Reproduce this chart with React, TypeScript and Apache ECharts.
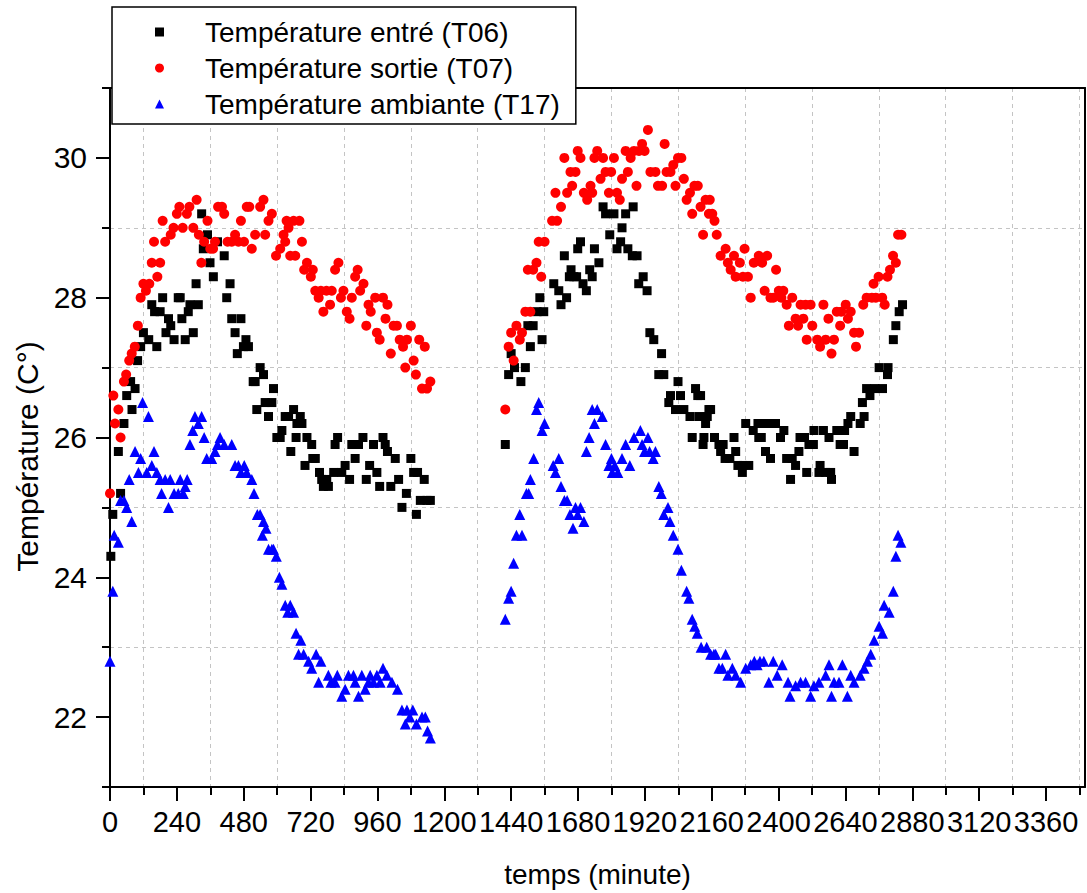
import React, { useEffect, useRef } from "react";
import * as echarts from "echarts";

// ---------- data (time in minutes, temperature in °C) ----------
const SERIES_NAMES = [
  "Température entré (T06)",
  "Température sortie (T07)",
  "Température ambiante (T17)",
];

const T06_RUN1: [number, number][] = [
  [3,24.3],[10,24.9],[30,25.8],[38,25.2],[50,26.2],[60,26.6],[74,26.8],[79,26.4],[90,26.7],[99,27.1],
  [110,27.3],[120,27.5],[139,27.4],[150,27.9],[160,27.8],[168,27.3],[180,27.8],[189,28.0],[201,27.5],[210,27.7],
  [218,27.6],[230,27.4],[245,28.0],[252,28.0],[258,27.7],[270,27.4],[281,27.8],[287,27.9],[299,27.5],[309,28.2],
  [317,27.9],[329,29.2],[335,28.7],[350,28.9],[359,28.5],[371,28.3],[386,28.8],[410,28.6],[419,28.0],[431,28.2],
  [437,27.7],[449,27.5],[457,27.2],[470,27.7],[479,27.3],[488,27.4],[497,27.3],[514,26.8],[521,26.8],[527,26.4],
  [539,27.0],[551,26.9],[557,26.5],[569,26.3],[581,26.5],[587,26.7],[599,26.0],[611,26.0],[617,26.1],[629,26.3],
  [641,26.3],[649,25.8],[659,26.4],[668,26.0],[671,26.2],[683,26.3],[689,26.2],[700,25.6],[707,26.0],[724,25.9],
  [728,25.7],[737,25.7],[752,25.5],[760,25.4],[766,25.3],[778,25.4],[784,25.3],[803,25.5],[808,25.9],[817,26.0],
  [832,25.5],[844,25.6],[860,25.4],[868,25.9],[880,25.7],[892,25.9],[908,26.0],[920,25.4],[932,25.6],[946,25.9],
  [958,25.5],[968,25.3],[980,26.0],[988,25.9],[996,25.8],[1008,25.3],[1024,25.7],[1036,25.4],[1048,25.0],[1064,25.2],
  [1080,25.7],[1090,25.5],[1100,24.9],[1104,25.5],[1114,25.1],[1128,25.4],[1138,25.1],[1150,25.1],
];

const T06_RUN2: [number, number][] = [
  [1419,25.9],[1431,26.9],[1440,27.2],[1452,27.0],[1475,26.8],[1491,27.0],[1500,27.6],[1509,27.3],[1519,27.6],[1533,27.8],
  [1543,28.0],[1551,27.4],[1557,27.8],[1593,28.2],[1611,28.1],[1619,27.9],[1631,28.6],[1639,28.0],[1649,28.3],[1655,28.4],
  [1665,28.3],[1675,28.3],[1679,28.7],[1689,28.8],[1698,28.2],[1710,28.1],[1722,28.4],[1731,28.3],[1739,28.7],[1755,28.5],
  [1770,29.3],[1779,29.2],[1794,28.9],[1809,29.2],[1820,28.7],[1833,28.8],[1838,29.0],[1851,29.2],[1859,28.7],[1875,28.6],
  [1878,29.3],[1892,28.6],[1898,28.2],[1914,28.3],[1928,28.1],[1938,27.5],[1952,27.4],[1970,26.9],[1980,27.2],[1988,26.9],
  [2006,26.5],[2012,26.6],[2030,26.4],[2039,26.8],[2048,26.6],[2060,26.4],[2082,26.3],[2090,26.0],[2102,26.7],[2110,26.6],
  [2114,26.3],[2120,26.6],[2129,25.9],[2132,26.0],[2138,26.2],[2144,26.3],[2150,26.4],[2156,26.4],[2170,26.0],[2186,25.9],
  [2192,25.8],[2201,25.9],[2208,25.7],[2225,25.7],[2240,26.0],[2246,25.8],[2254,25.6],[2270,25.5],[2272,25.6],[2282,26.2],
  [2293,25.6],[2309,26.1],[2326,26.2],[2329,26.0],[2338,26.0],[2347,26.2],[2353,25.8],[2365,26.2],[2371,25.7],[2389,26.2],
  [2407,26.0],[2419,26.1],[2429,25.7],[2443,25.4],[2449,25.7],[2461,25.6],[2473,25.8],[2477,26.0],[2493,26.0],[2501,25.5],
  [2509,25.9],[2525,25.9],[2527,26.1],[2545,25.5],[2549,25.6],[2561,26.1],[2569,25.5],[2581,26.0],[2587,25.5],[2590,25.4],
  [2609,26.1],[2621,25.9],[2633,25.9],[2637,26.1],[2649,26.2],[2659,26.3],[2671,25.8],[2693,26.2],[2701,26.5],[2707,26.3],
  [2716,26.7],[2728,26.6],[2745,26.7],[2761,27.0],[2773,26.7],[2791,26.9],[2793,27.0],[2812,27.4],[2821,27.6],[2833,27.8],
  [2845,27.9],
];

const T07_RUN1: [number, number][] = [
  [0,25.2],[12,26.6],[18,26.2],[30,26.4],[38,26.0],[50,26.8],[58,26.9],[69,27.1],[78,27.2],[89,27.3],
  [100,27.6],[110,28.0],[120,28.2],[129,28.1],[141,28.2],[150,28.5],[158,28.8],[170,28.3],[180,28.5],[189,29.1],
  [198,28.8],[218,28.9],[228,29.0],[240,29.2],[249,29.3],[261,29.0],[276,29.2],[285,29.3],[299,29.0],[311,29.4],
  [319,28.9],[328,28.5],[338,28.8],[350,29.1],[360,28.7],[370,28.7],[377,28.8],[388,29.3],[402,29.3],[410,29.2],
  [422,28.8],[437,28.8],[449,28.9],[461,28.8],[470,29.1],[481,28.8],[491,29.3],[500,29.3],[509,28.7],[521,28.9],
  [539,29.3],[551,29.4],[557,28.9],[569,29.1],[581,29.2],[596,28.6],[611,28.7],[623,28.9],[629,28.8],[634,29.1],
  [641,29.0],[647,28.6],[659,29.1],[665,28.6],[680,29.1],[689,28.8],[697,28.4],[707,28.5],[721,28.3],[728,28.4],
  [737,28.1],[749,28.0],[757,28.1],[766,27.8],[777,28.1],[790,27.9],[796,28.1],[808,28.4],[820,28.5],[829,28.0],
  [838,28.1],[850,27.8],[860,27.7],[868,28.0],[880,28.3],[889,28.4],[898,28.1],[910,28.2],[920,27.6],[928,27.9],
  [936,27.8],[952,28.0],[958,27.5],[968,27.4],[980,28.0],[989,27.7],[996,27.9],[1008,27.2],[1018,27.6],[1030,27.6],
  [1040,27.4],[1052,27.3],[1060,27.0],[1066,27.4],[1080,27.6],[1090,27.1],[1098,26.9],[1110,27.4],[1120,26.7],[1130,27.3],
  [1138,26.7],[1150,26.8],
];

const T07_RUN2: [number, number][] = [
  [1419,26.4],[1431,27.3],[1440,27.5],[1449,27.1],[1459,27.6],[1471,27.4],[1479,27.5],[1491,27.8],[1500,28.4],[1509,27.8],
  [1519,28.4],[1531,28.5],[1539,28.8],[1548,28.3],[1560,28.8],[1587,29.1],[1599,29.5],[1605,29.1],[1619,29.3],[1631,30.0],
  [1641,29.5],[1653,29.8],[1659,29.6],[1671,29.8],[1679,30.1],[1689,30.0],[1701,29.5],[1713,29.4],[1725,29.6],[1731,29.5],
  [1739,30.0],[1749,30.1],[1761,29.7],[1770,30.0],[1779,29.8],[1791,29.5],[1799,29.8],[1809,30.0],[1820,29.5],[1830,29.4],
  [1838,29.7],[1851,30.1],[1859,29.8],[1869,30.0],[1881,30.1],[1890,29.6],[1899,30.1],[1910,30.2],[1919,30.1],[1931,30.4],
  [1940,29.8],[1958,29.8],[1967,29.6],[1982,29.6],[1991,30.2],[1998,29.8],[2012,29.8],[2022,29.9],[2030,29.6],[2039,30.0],
  [2051,30.0],[2060,29.7],[2070,29.4],[2082,29.5],[2090,29.2],[2098,29.6],[2110,29.6],[2120,29.3],[2129,28.9],[2138,29.4],
  [2150,29.2],[2153,29.4],[2162,29.2],[2170,29.1],[2178,28.9],[2192,28.6],[2210,28.7],[2218,28.5],[2228,28.4],[2240,28.6],
  [2246,28.3],[2261,28.5],[2272,28.3],[2278,28.7],[2290,28.3],[2300,28.0],[2311,28.5],[2329,28.6],[2341,28.5],[2350,28.1],
  [2359,28.6],[2371,28.0],[2381,28.0],[2391,28.4],[2401,28.1],[2410,28.0],[2417,28.1],[2429,27.9],[2437,27.6],[2449,28.0],
  [2461,27.7],[2470,27.6],[2479,27.9],[2489,27.7],[2497,27.9],[2501,27.4],[2515,27.9],[2521,27.6],[2539,27.4],[2549,27.3],
  [2561,27.9],[2569,27.4],[2579,27.7],[2590,27.2],[2599,27.4],[2609,27.8],[2621,27.6],[2625,27.8],[2641,27.9],[2649,27.7],
  [2659,27.8],[2671,27.5],[2678,27.3],[2689,27.5],[2704,27.9],[2716,28.0],[2735,28.0],[2741,28.2],[2749,28.0],[2759,28.3],
  [2772,28.0],[2781,27.9],[2791,28.3],[2800,28.4],[2811,28.6],[2821,28.5],[2829,28.9],[2841,28.9],
];

const T17_RUN1: [number, number][] = [
  [0,22.8],[10,23.8],[15,24.6],[30,24.5],[38,25.1],[50,25.1],[60,25.0],[69,25.4],[78,24.8],[90,25.8],
  [102,25.5],[110,25.7],[117,26.5],[132,25.5],[138,26.3],[150,25.6],[158,25.8],[168,25.5],[180,25.4],[185,25.2],
  [198,25.4],[210,25.0],[216,25.4],[230,25.2],[245,25.2],[252,25.4],[263,25.2],[270,25.3],[277,25.4],[287,25.9],
  [297,26.1],[305,26.3],[317,26.2],[329,26.3],[338,26.0],[347,25.7],[365,25.7],[377,25.8],[386,25.9],[395,26.0],
  [410,25.9],[437,25.9],[449,25.6],[461,25.6],[470,25.5],[482,25.6],[491,25.5],[509,25.4],[517,25.2],[529,24.9],
  [539,24.9],[547,24.6],[551,24.8],[560,24.7],[569,24.4],[581,24.4],[587,24.4],[597,24.3],[608,24.0],[617,23.9],
  [629,23.6],[638,23.5],[647,23.6],[659,23.5],[668,23.2],[677,22.9],[685,23.1],[695,22.9],[713,22.8],[724,22.7],
  [740,22.9],[749,22.5],[757,22.8],[784,22.6],[793,22.5],[808,22.5],[816,22.6],[832,22.3],[844,22.4],[856,22.6],
  [874,22.6],[880,22.5],[892,22.3],[904,22.6],[916,22.4],[928,22.5],[934,22.6],[946,22.5],[958,22.6],[970,22.5],
  [980,22.7],[994,22.6],[1012,22.5],[1032,22.4],[1048,22.1],[1060,21.9],[1066,22.1],[1076,22.0],[1087,22.1],[1100,21.9],
  [1120,22.0],[1132,22.0],[1140,21.8],[1150,21.7],
];

const T17_RUN2: [number, number][] = [
  [1419,23.4],[1431,23.7],[1440,23.8],[1449,24.2],[1459,24.6],[1471,24.9],[1479,24.6],[1495,25.2],[1503,25.2],[1509,25.4],
  [1521,25.7],[1531,26.4],[1539,26.5],[1551,26.1],[1560,26.2],[1591,25.6],[1599,25.5],[1611,25.7],[1619,25.3],[1631,25.1],
  [1641,25.1],[1651,24.9],[1662,24.7],[1671,25.0],[1679,24.9],[1689,25.0],[1701,24.8],[1710,25.8],[1720,26.0],[1731,26.4],
  [1739,26.2],[1749,26.4],[1767,26.3],[1779,25.9],[1791,25.6],[1800,25.7],[1803,25.5],[1812,25.6],[1823,25.5],[1838,25.7],
  [1851,25.9],[1866,25.6],[1881,26.0],[1904,26.1],[1910,25.9],[1919,25.8],[1931,26.0],[1937,25.8],[1950,25.7],[1958,25.8],
  [1970,25.3],[1979,25.2],[1988,24.9],[2003,25.0],[2010,24.8],[2022,24.6],[2039,24.4],[2051,24.1],[2070,23.8],[2078,23.7],
  [2090,23.4],[2099,23.3],[2108,23.2],[2122,23.0],[2142,23.0],[2156,22.9],[2168,22.9],[2174,22.9],[2186,22.7],[2198,22.7],
  [2210,22.9],[2218,22.6],[2234,22.7],[2246,22.6],[2264,22.5],[2282,22.7],[2300,22.75],[2313,22.8],[2323,22.75],[2333,22.8],
  [2347,22.8],[2365,22.5],[2381,22.8],[2395,22.6],[2413,22.75],[2434,22.5],[2441,22.3],[2461,22.45],[2479,22.5],[2497,22.5],
  [2515,22.3],[2527,22.45],[2545,22.5],[2569,22.6],[2581,22.75],[2590,22.3],[2599,22.5],[2617,22.5],[2629,22.75],[2647,22.3],
  [2659,22.6],[2671,22.5],[2693,22.6],[2707,22.7],[2719,22.8],[2731,22.9],[2743,23.1],[2761,23.3],[2773,23.2],[2779,23.6],
  [2797,23.5],[2812,23.8],[2821,24.3],[2829,24.6],[2839,24.5],
];

// ---------- axis ticks ----------
const X_MAJOR_TICKS = [0, 240, 480, 720, 960, 1200, 1440, 1680, 1920, 2160, 2400, 2640, 2880, 3120, 3360];
const X_MINOR_TICKS = [120, 360, 600, 840, 1080, 1320, 1560, 1800, 2040, 2280, 2520, 2760, 3000, 3240, 3480];
const Y_MAJOR_TICKS = [22, 24, 26, 28, 30];
const Y_MINOR_TICKS = [21, 23, 25, 27, 29, 31];
const Y_GRID_VALUES = [23, 25, 27, 29];
const X_RANGE = [0, 3500];
const Y_RANGE = [21, 31];

const FONT = "'Liberation Sans', Arial, Helvetica, sans-serif";
const BLACK = "#000000";
const GRID_COLOR = "#c4c4c4";

export default function App() {
  const ref = useRef<HTMLDivElement>(null);

  useEffect(() => {
    if (!ref.current) return;
    const chart = echarts.init(ref.current, null, { renderer: "svg" });

    const plain = (v: number) => String(v);
    const hiddenAxisParts = {
      axisLabel: { show: false },
      splitLine: { show: false },
    };

    const option: any = {
      animation: false,
      backgroundColor: "#ffffff",
      grid: { left: 110, right: 2, top: 88, bottom: 106, containLabel: false },
      legend: {
        orient: "vertical",
        left: 112,
        top: 7,
        padding: [11, 16, 6, 43],
        itemGap: 8,
        itemWidth: 9,
        itemHeight: 9,
        backgroundColor: "#ffffff",
        borderColor: BLACK,
        borderWidth: 1.5,
        borderRadius: 0,
        textStyle: {
          fontFamily: FONT,
          fontSize: 28,
          color: BLACK,
          padding: [0, 0, 0, 36],
        },
        data: [
          { name: SERIES_NAMES[0], icon: "rect" },
          { name: SERIES_NAMES[1], icon: "circle" },
          { name: SERIES_NAMES[2], icon: "triangle" },
        ],
        z: 10,
      },
      xAxis: [
        {
          type: "value",
          min: X_RANGE[0],
          max: X_RANGE[1],
          position: "bottom",
          axisLine: { show: true, onZero: false, lineStyle: { color: BLACK, width: 2 } },
          axisTick: {
            show: true,
            inside: false,
            length: 14,
            customValues: X_MAJOR_TICKS,
            lineStyle: { color: BLACK, width: 2 },
          },
          axisLabel: {
            fontFamily: FONT,
            fontSize: 29,
            color: BLACK,
            margin: 20,
            customValues: X_MAJOR_TICKS,
            formatter: plain,
            showMinLabel: true,
            showMaxLabel: true,
            hideOverlap: false,
          },
          splitLine: { show: false },
          name: "temps (minute)",
          nameLocation: "middle",
          nameGap: 73,
          nameTextStyle: { fontFamily: FONT, fontSize: 28, color: BLACK },
        },
        {
          type: "value",
          min: X_RANGE[0],
          max: X_RANGE[1],
          position: "bottom",
          axisLine: { show: false, onZero: false },
          axisTick: {
            show: true,
            inside: false,
            length: 8,
            customValues: X_MINOR_TICKS,
            lineStyle: { color: BLACK, width: 2 },
          },
          axisLabel: { show: false },
          splitLine: { show: true, lineStyle: { color: GRID_COLOR, width: 1, type: [4, 4] } },
        },
        {
          type: "value",
          min: X_RANGE[0],
          max: X_RANGE[1],
          position: "top",
          axisLine: { show: true, onZero: false, lineStyle: { color: BLACK, width: 2 } },
          axisTick: { show: false },
          ...hiddenAxisParts,
        },
      ],
      yAxis: [
        {
          type: "value",
          min: Y_RANGE[0],
          max: Y_RANGE[1],
          position: "left",
          axisLine: { show: true, onZero: false, lineStyle: { color: BLACK, width: 2 } },
          axisTick: {
            show: true,
            inside: false,
            length: 14,
            customValues: Y_MAJOR_TICKS,
            lineStyle: { color: BLACK, width: 2 },
          },
          axisLabel: {
            fontFamily: FONT,
            fontSize: 30,
            color: BLACK,
            margin: 23,
            customValues: Y_MAJOR_TICKS,
            formatter: plain,
          },
          splitLine: { show: false },
          name: "Température (C°)",
          nameLocation: "middle",
          nameRotate: 90,
          nameGap: 66,
          nameTextStyle: { fontFamily: FONT, fontSize: 30, color: BLACK, padding: [0, 38, 0, 0] },
        },
        {
          type: "value",
          min: Y_RANGE[0],
          max: Y_RANGE[1],
          position: "left",
          axisLine: { show: false, onZero: false },
          axisTick: {
            show: true,
            inside: false,
            length: 8,
            customValues: Y_MINOR_TICKS,
            lineStyle: { color: BLACK, width: 2 },
          },
          ...hiddenAxisParts,
        },
        {
          type: "value",
          min: Y_RANGE[0],
          max: Y_RANGE[1],
          position: "left",
          axisLine: { show: false, onZero: false },
          axisTick: { show: false, customValues: Y_GRID_VALUES },
          axisLabel: { show: false },
          splitLine: { show: true, lineStyle: { color: GRID_COLOR, width: 1, type: [4, 4] } },
        },
        {
          type: "value",
          min: Y_RANGE[0],
          max: Y_RANGE[1],
          position: "right",
          axisLine: { show: true, onZero: false, lineStyle: { color: BLACK, width: 2 } },
          axisTick: { show: false },
          ...hiddenAxisParts,
        },
      ],
      series: [
        {
          type: "scatter",
          name: SERIES_NAMES[0],
          xAxisIndex: 0,
          yAxisIndex: 0,
          symbol: "rect",
          symbolSize: 9,
          itemStyle: { color: "#000000", opacity: 1 },
          data: [...T06_RUN1, ...T06_RUN2],
        },
        {
          type: "scatter",
          name: SERIES_NAMES[1],
          xAxisIndex: 0,
          yAxisIndex: 0,
          symbol: "circle",
          symbolSize: 10,
          itemStyle: { color: "#ff0000", opacity: 1 },
          data: [...T07_RUN1, ...T07_RUN2],
        },
        {
          type: "scatter",
          name: SERIES_NAMES[2],
          xAxisIndex: 0,
          yAxisIndex: 0,
          symbol: "triangle",
          symbolSize: 11,
          itemStyle: { color: "#0000ff", opacity: 1 },
          data: [...T17_RUN1, ...T17_RUN2],
        },
      ],
    };

    chart.setOption(option);
    return () => chart.dispose();
  }, []);

  return (
    <div
      ref={ref}
      style={{ position: "absolute", left: 0, top: 0, width: 1087, height: 893, background: "#fff" }}
    />
  );
}
